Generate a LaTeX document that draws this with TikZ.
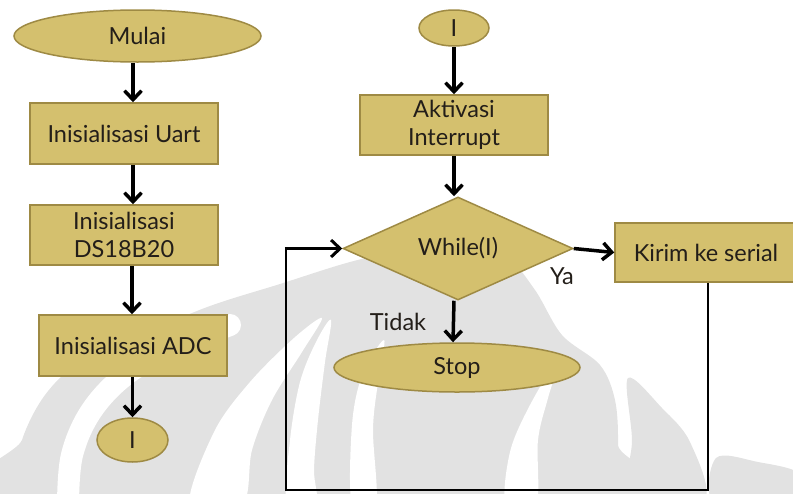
\documentclass[tikz,border=0pt]{standalone}
\usepackage{fontspec}
\setmainfont{Lato}
\usetikzlibrary{shapes.geometric,arrows.meta}
\definecolor{boxfill}{RGB}{212,192,110}
\definecolor{boxline}{RGB}{158,138,68}
\definecolor{ink}{RGB}{35,30,25}
\definecolor{embgray}{RGB}{226,226,226}
\begin{document}
\begin{tikzpicture}[x=1pt,y=-1pt,
  label font/.style={font=\fontsize{23.5}{28}\selectfont, text=ink},
  procbox/.style={rectangle, draw=boxline, fill=boxfill, line width=1.5pt,
    inner sep=0pt, align=center, label font},
  term/.style={ellipse, draw=boxline, fill=boxfill, line width=1.5pt,
    inner sep=0pt, label font},
  decide/.style={diamond, draw=boxline, fill=boxfill, line width=1.5pt,
    inner sep=0pt, label font},
  flow/.style={line width=3.5pt, draw=black,
    -{Straight Barb[length=9pt,width=17pt]}},
  loopline/.style={line width=2.5pt, draw=black},
  gap/.style={draw=white, line cap=round}]
\useasboundingbox (0,0) rectangle (793,493);

% background emblem in light grey
\begin{scope}
  \clip (0,0) rectangle (793,493);
  % main dome
  \fill[embgray] plot[smooth cycle, tension=0.55] coordinates {
    (10,500) (22,440) (45,395) (80,362) (140,335) (210,306) (280,284)
    (350,262) (420,246) (460,240) (505,255) (535,290) (562,335) (600,365)
    (615,400) (618,445) (614,500)};
  % right petals
  \fill[embgray] plot[smooth cycle, tension=0.55] coordinates {
    (628,378) (662,408) (690,442) (704,500) (630,500) (632,440)};
  \fill[embgray] plot[smooth cycle, tension=0.55] coordinates {
    (716,458) (758,462) (800,474) (800,505) (716,505)};
  % white gaps inside the dome
  \draw[gap, line width=22pt] plot[smooth, tension=0.6] coordinates {
    (68,505) (72,455) (92,410) (128,373) (178,346) (230,325)};
  \fill[white] plot[smooth cycle, tension=0.55] coordinates {
    (190,505) (214,432) (250,382) (294,338) (322,318) (302,352)
    (272,400) (252,450) (242,505)};
  \fill[white] plot[smooth cycle, tension=0.55] coordinates {
    (287,505) (290,440) (300,382) (316,342) (331,320) (325,362)
    (318,420) (314,470) (316,505)};
  \fill[white] plot[smooth cycle, tension=0.55] coordinates {
    (352,505) (352,425) (362,376) (384,340) (378,382) (373,430) (376,505)};
  \fill[white] plot[smooth cycle, tension=0.55] coordinates {
    (506,505) (510,452) (530,405) (560,356) (548,398) (538,440)
    (536,505)};
\end{scope}

% left column
\node[term, minimum width=247pt, minimum height=52pt] (mulai) at (137.5,36) {Mulai};
\node[procbox, minimum width=188pt, minimum height=61pt] (uart) at (124,133.5) {Inisialisasi Uart};
\node[procbox, minimum width=188pt, minimum height=60pt] (ds) at (124,235) {Inisialisasi\\DS18B20};
\node[procbox, minimum width=188pt, minimum height=61pt] (adc) at (133,345.5) {Inisialisasi ADC};
\node[term, minimum width=71pt, minimum height=44pt] (c1) at (132.5,440) {I};

% right column
\node[term, minimum width=70pt, minimum height=36pt] (c2) at (454,28) {I};
\node[procbox, minimum width=188pt, minimum height=60pt] (akt) at (454,125) {Aktivasi\\Interrupt};
\node[decide, minimum width=230pt, minimum height=103pt] (whl) at (458,248.5) {While(I)};
\node[term, minimum width=246pt, minimum height=49pt] (stop) at (457,367.5) {Stop};
\node[procbox, minimum width=182pt, minimum height=59pt] (kirim) at (706,252.5) {Kirim ke serial};

\node[label font, inner sep=0pt] (ya) at (562,276) {Ya};
\node[label font, inner sep=0pt] (tidak) at (398,322) {Tidak};

% connectors
\draw[flow] ([xshift=-4.5pt]mulai.south) -- ([xshift=9pt]uart.north);
\draw[flow] ([xshift=9pt]uart.south) -- ([xshift=9pt]ds.north);
\draw[flow] ([xshift=8pt]ds.south) -- ([xshift=-1pt]adc.north);
\draw[flow] ([xshift=-0.5pt]adc.south) -- (c1.north);
\draw[flow] (c2.south) -- (akt.north);
\draw[flow] (akt.south) -- (akt.south |- whl.north);
\draw[flow] ([xshift=-4pt]whl.south) -- ([xshift=-4pt]stop.north);
\draw[flow] (whl.east) -- (kirim.west);
\coordinate (lowright) at (708,490);
\coordinate (lowleft) at (286,490);
\draw[loopline] (kirim.south -| lowright) -- (lowright) -- (lowleft) -- (lowleft |- whl.west);
\draw[flow, line width=3pt] ([xshift=-1.25pt]lowleft |- whl.west) -- (whl.west);
\end{tikzpicture}
\end{document}
